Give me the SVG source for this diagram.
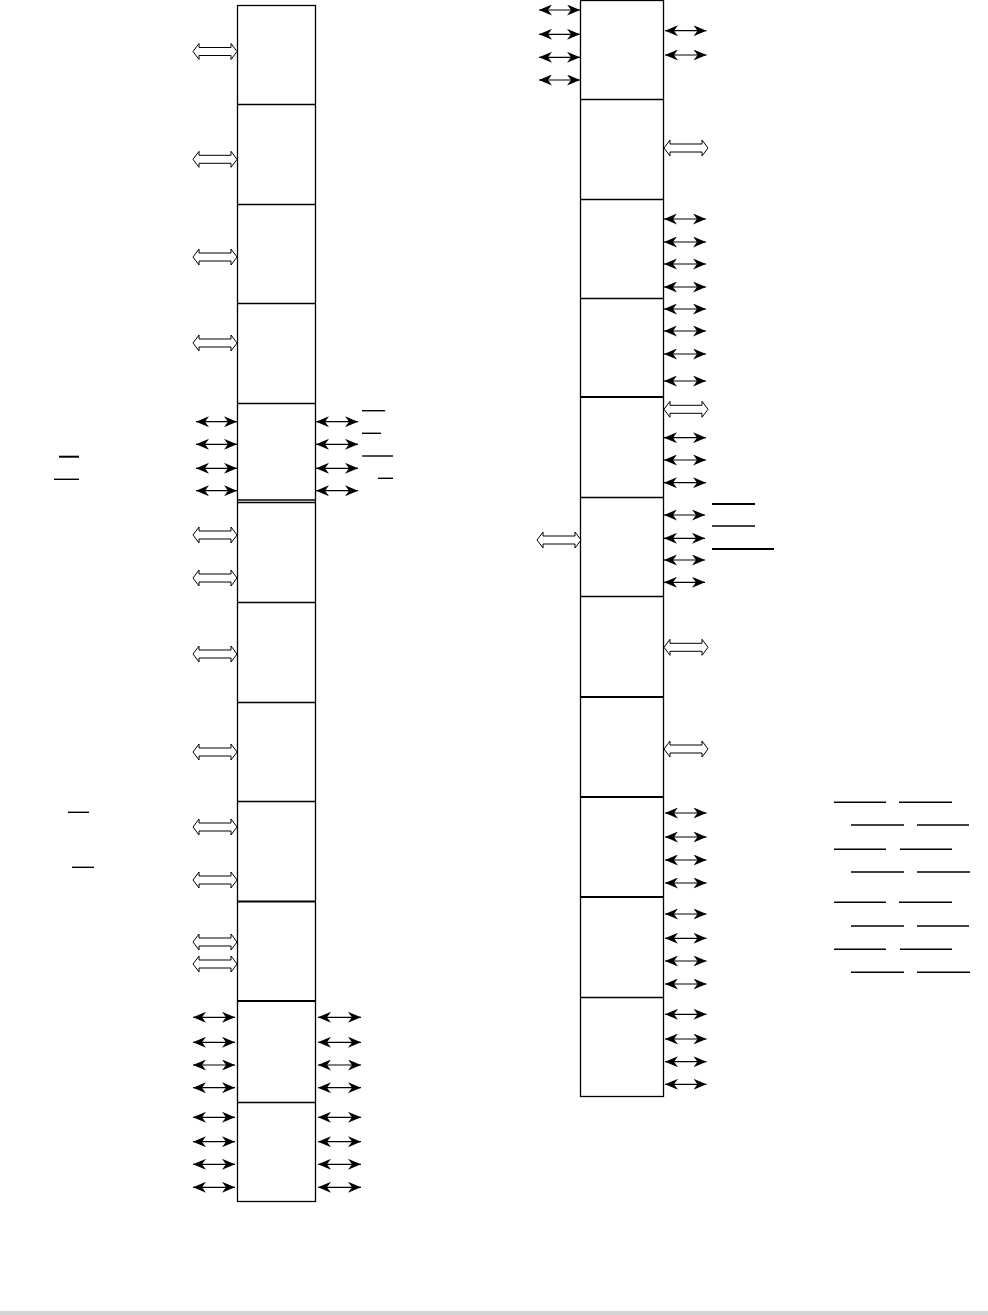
<svg xmlns="http://www.w3.org/2000/svg" xmlns:xlink="http://www.w3.org/1999/xlink" width="988" height="1315" viewBox="0 0 988 1315">
<style>
.box{fill:#fff;stroke:#000;stroke-width:1.3}
.div{stroke:#000;stroke-width:1.3}
.thk{stroke:#000;stroke-width:2.2}
.sa{stroke:#000;stroke-width:1.2;fill:none;marker-start:url(#ah);marker-end:url(#ah)}
.ol{stroke:#000;stroke-width:1.4}
.olt{stroke:#000;stroke-width:2}
</style>
<defs>
<marker id="ah" markerUnits="userSpaceOnUse" viewBox="0 0 13 11" refX="13" refY="5.5" markerWidth="13" markerHeight="11" orient="auto-start-reverse">
<path d="M0,0 L13,5.5 L0,11 L4,5.5 Z" fill="#000"/>
</marker>
<path id="ha" d="M0,0 L6,-8 L6,-4 L38,-4 L38,-8 L44,0 L38,8 L38,4 L6,4 L6,8 Z" fill="#fff" stroke="#000" stroke-width="1"/>
</defs>
<rect x="0" y="1311" width="988" height="4" fill="#d3d3d3"/>

<g id="left-column">
<rect class="box" x="237.5" y="5.5" width="78" height="1196"/>
<line class="div" x1="237.5" y1="104.5" x2="315.5" y2="104.5"/>
<line class="div" x1="237.5" y1="204.5" x2="315.5" y2="204.5"/>
<line class="div" x1="237.5" y1="303.5" x2="315.5" y2="303.5"/>
<line class="div" x1="237.5" y1="403.5" x2="315.5" y2="403.5"/>
<line class="div" x1="237.5" y1="500" x2="315.5" y2="500"/>
<line class="div" x1="237.5" y1="502.5" x2="315.5" y2="502.5"/>
<line class="div" x1="237.5" y1="602.5" x2="315.5" y2="602.5"/>
<line class="div" x1="237.5" y1="702.5" x2="315.5" y2="702.5"/>
<line class="div" x1="237.5" y1="801.5" x2="315.5" y2="801.5"/>
<line class="thk" x1="237.5" y1="901.5" x2="315.5" y2="901.5"/>
<line class="thk" x1="237.5" y1="1001" x2="315.5" y2="1001"/>
<line class="div" x1="237.5" y1="1102.5" x2="315.5" y2="1102.5"/>
</g>

<g id="right-column">
<rect class="box" x="580.5" y="0.5" width="83" height="1096"/>
<line class="div" x1="580.5" y1="99.5" x2="663.5" y2="99.5"/>
<line class="div" x1="580.5" y1="199.5" x2="663.5" y2="199.5"/>
<line class="div" x1="580.5" y1="298.5" x2="663.5" y2="298.5"/>
<line class="thk" x1="580.5" y1="397" x2="663.5" y2="397"/>
<line class="div" x1="580.5" y1="497.5" x2="663.5" y2="497.5"/>
<line class="div" x1="580.5" y1="596.5" x2="663.5" y2="596.5"/>
<line class="thk" x1="580.5" y1="697" x2="663.5" y2="697"/>
<line class="thk" x1="580.5" y1="797" x2="663.5" y2="797"/>
<line class="thk" x1="580.5" y1="897" x2="663.5" y2="897"/>
<line class="div" x1="580.5" y1="997.5" x2="663.5" y2="997.5"/>
</g>

<g id="connectors">
<use xlink:href="#ha" x="193" y="51.5"/>
<use xlink:href="#ha" x="193" y="159.3"/>
<use xlink:href="#ha" x="193" y="257"/>
<use xlink:href="#ha" x="193" y="343"/>
<use xlink:href="#ha" x="193" y="535"/>
<use xlink:href="#ha" x="193" y="578"/>
<use xlink:href="#ha" x="193" y="654"/>
<use xlink:href="#ha" x="193" y="752"/>
<use xlink:href="#ha" x="193" y="827"/>
<use xlink:href="#ha" x="193" y="880"/>
<use xlink:href="#ha" x="193" y="942"/>
<use xlink:href="#ha" x="193" y="964"/>
<path class="sa" d="M196,421.7H237"/>
<path class="sa" d="M196,444.3H237"/>
<path class="sa" d="M196,468.3H237"/>
<path class="sa" d="M196,490.7H237"/>
<path class="sa" d="M316,421.7H358"/>
<path class="sa" d="M316,444.3H358"/>
<path class="sa" d="M316,468.3H358"/>
<path class="sa" d="M316,490.7H358"/>
<path class="sa" d="M193,1017.3H235"/>
<path class="sa" d="M193,1042.3H235"/>
<path class="sa" d="M193,1065H235"/>
<path class="sa" d="M193,1087.7H235"/>
<path class="sa" d="M193,1117.3H235"/>
<path class="sa" d="M193,1141.7H235"/>
<path class="sa" d="M193,1164.3H235"/>
<path class="sa" d="M193,1187.3H235"/>
<path class="sa" d="M318,1017.3H361"/>
<path class="sa" d="M318,1042.3H361"/>
<path class="sa" d="M318,1065H361"/>
<path class="sa" d="M318,1087.7H361"/>
<path class="sa" d="M318,1117.3H361"/>
<path class="sa" d="M318,1141.7H361"/>
<path class="sa" d="M318,1164.3H361"/>
<path class="sa" d="M318,1187.3H361"/>
<path class="sa" d="M539,10H580"/>
<path class="sa" d="M539,34.3H580"/>
<path class="sa" d="M539,57.3H580"/>
<path class="sa" d="M539,80H580"/>
<path class="sa" d="M665,30.7H706.5"/>
<path class="sa" d="M665,55H706.5"/>
<use xlink:href="#ha" x="664" y="148"/>
<path class="sa" d="M664,219H706"/>
<path class="sa" d="M664,242H706"/>
<path class="sa" d="M664,264H706"/>
<path class="sa" d="M664,287H706"/>
<path class="sa" d="M664,309H706"/>
<path class="sa" d="M664,331H706"/>
<path class="sa" d="M664,354H706"/>
<path class="sa" d="M664,381H706"/>
<use xlink:href="#ha" x="664" y="409.3"/>
<path class="sa" d="M664,437.7H706"/>
<path class="sa" d="M664,460H706"/>
<path class="sa" d="M664,482.7H706"/>
<path class="sa" d="M664,515H705"/>
<path class="sa" d="M664,538.3H705"/>
<path class="sa" d="M664,560H705"/>
<path class="sa" d="M664,582.3H705"/>
<use xlink:href="#ha" x="537" y="540"/>
<use xlink:href="#ha" x="664" y="647.3"/>
<use xlink:href="#ha" x="664" y="749"/>
<path class="sa" d="M665,813H706.5"/>
<path class="sa" d="M665,837H706.5"/>
<path class="sa" d="M665,860H706.5"/>
<path class="sa" d="M665,883H706.5"/>
<path class="sa" d="M665,914H706.5"/>
<path class="sa" d="M665,938.3H706.5"/>
<path class="sa" d="M665,961H706.5"/>
<path class="sa" d="M665,984H706.5"/>
<path class="sa" d="M665,1014.3H706.5"/>
<path class="sa" d="M665,1039H706.5"/>
<path class="sa" d="M665,1061.7H706.5"/>
<path class="sa" d="M665,1084.3H706.5"/>
</g>

<g id="overlines">
<line class="ol" x1="362" y1="410.7" x2="385" y2="410.7"/>
<line class="ol" x1="362" y1="433.3" x2="381" y2="433.3"/>
<line class="ol" x1="362" y1="456" x2="393" y2="456"/>
<line class="ol" x1="378" y1="478.3" x2="393" y2="478.3"/>
<line class="olt" x1="59" y1="456.7" x2="79" y2="456.7"/>
<line class="ol" x1="54" y1="479.3" x2="79" y2="479.3"/>
<line class="ol" x1="68" y1="812.3" x2="89" y2="812.3"/>
<line class="ol" x1="72" y1="867.3" x2="94" y2="867.3"/>
<line class="olt" x1="712" y1="504" x2="755" y2="504"/>
<line class="ol" x1="712" y1="526" x2="755" y2="526"/>
<line class="olt" x1="712" y1="549" x2="774" y2="549"/>
<line class="ol" x1="834" y1="802.3" x2="886" y2="802.3"/>
<line class="ol" x1="899" y1="802.3" x2="952" y2="802.3"/>
<line class="ol" x1="851" y1="825" x2="904" y2="825"/>
<line class="ol" x1="917" y1="825" x2="969" y2="825"/>
<line class="ol" x1="834" y1="849.3" x2="886" y2="849.3"/>
<line class="ol" x1="900" y1="849.3" x2="952" y2="849.3"/>
<line class="ol" x1="851" y1="872" x2="904" y2="872"/>
<line class="ol" x1="917" y1="872" x2="970" y2="872"/>
<line class="ol" x1="834" y1="902.3" x2="886" y2="902.3"/>
<line class="ol" x1="899" y1="902.3" x2="952" y2="902.3"/>
<line class="ol" x1="851" y1="926" x2="904" y2="926"/>
<line class="ol" x1="917" y1="926" x2="969" y2="926"/>
<line class="ol" x1="834" y1="949.3" x2="886" y2="949.3"/>
<line class="ol" x1="900" y1="949.3" x2="952" y2="949.3"/>
<line class="ol" x1="851" y1="972.3" x2="904" y2="972.3"/>
<line class="ol" x1="917" y1="972.3" x2="970" y2="972.3"/>
</g>
</svg>
